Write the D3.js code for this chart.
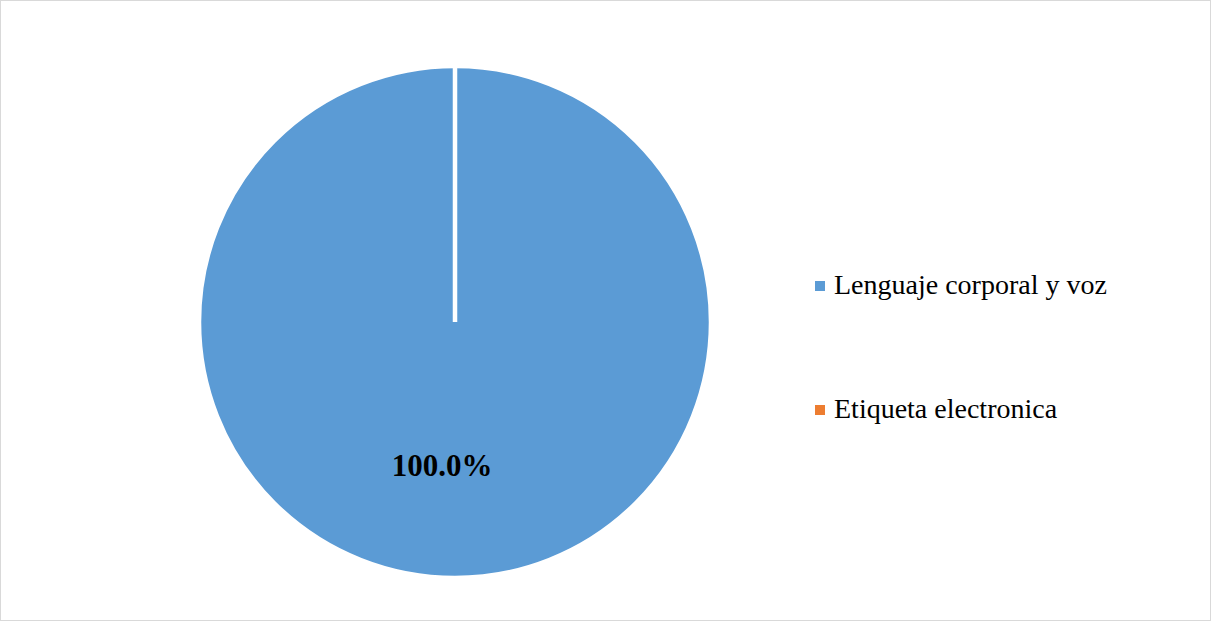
<!DOCTYPE html>
<html>
<head>
<meta charset="utf-8">
<script src="https://cdn.jsdelivr.net/npm/d3@7/dist/d3.min.js"></script>
<style>
  html, body { margin: 0; padding: 0; background: #fff; }
  svg { display: block; }
</style>
</head>
<body>
<svg id="chart" width="1211" height="621"></svg>
<script>
// Share of topics (percent)
const categories = ["Lenguaje corporal y voz", "Etiqueta electronica"];
const values = [100, 0];
const colors = ["#5B9BD5", "#ED7D31"];

const width = 1211, height = 621;
const svg = d3.select("#chart");

// chart frame
svg.append("rect")
  .attr("x", 0.5).attr("y", 0.5)
  .attr("width", width - 1).attr("height", height - 1)
  .attr("fill", "#fff")
  .attr("stroke", "#d9d9d9")
  .attr("stroke-width", 1);

const cx = 455, cy = 322, radius = 256;

const color = d3.scaleOrdinal().domain(categories).range(colors);

const pie = d3.pie().sort(null).value(d => d.value);
const data = categories.map((c, i) => ({ name: c, value: values[i] }));
const arcs = pie(data);

const arc = d3.arc().innerRadius(0).outerRadius(radius);
const labelArc = d3.arc().innerRadius(radius * 0.56).outerRadius(radius * 0.56);

const g = svg.append("g").attr("transform", `translate(${cx},${cy})`);

g.selectAll("path.slice")
  .data(arcs)
  .join("path")
  .attr("class", "slice")
  .attr("d", arc)
  .attr("fill", d => color(d.data.name))
  .attr("stroke", "#fff")
  .attr("stroke-width", 4.5)
  .attr("stroke-linejoin", "bevel");

// value labels for non-empty slices
const total = d3.sum(values);
g.selectAll("text.value")
  .data(arcs.filter(d => d.data.value > 0))
  .join("text")
  .attr("class", "value")
  .attr("x", d => labelArc.centroid(d)[0] - 13)
  .attr("y", d => labelArc.centroid(d)[1])
  .attr("dy", "0.35em")
  .attr("text-anchor", "middle")
  .attr("font-family", "'Liberation Serif', 'Times New Roman', serif")
  .attr("font-weight", "bold")
  .attr("font-size", 31)
  .attr("fill", "#000")
  .text(d => d3.format(".1f")(d.data.value / total * 100) + "%");

// legend
const legend = svg.append("g").attr("transform", "translate(815,0)");
const legendY = d3.scalePoint().domain(categories).range([286, 410]);

const item = legend.selectAll("g.item")
  .data(categories)
  .join("g")
  .attr("class", "item")
  .attr("transform", d => `translate(0,${legendY(d)})`);

item.append("rect")
  .attr("x", 0).attr("y", -5)
  .attr("width", 10).attr("height", 10)
  .attr("fill", d => color(d));

item.append("text")
  .attr("x", 19)
  .attr("y", 8)
  .attr("font-family", "'Liberation Serif', 'Times New Roman', serif")
  .attr("font-size", 28)
  .attr("fill", "#000")
  .text(d => d);
</script>
</body>
</html>
